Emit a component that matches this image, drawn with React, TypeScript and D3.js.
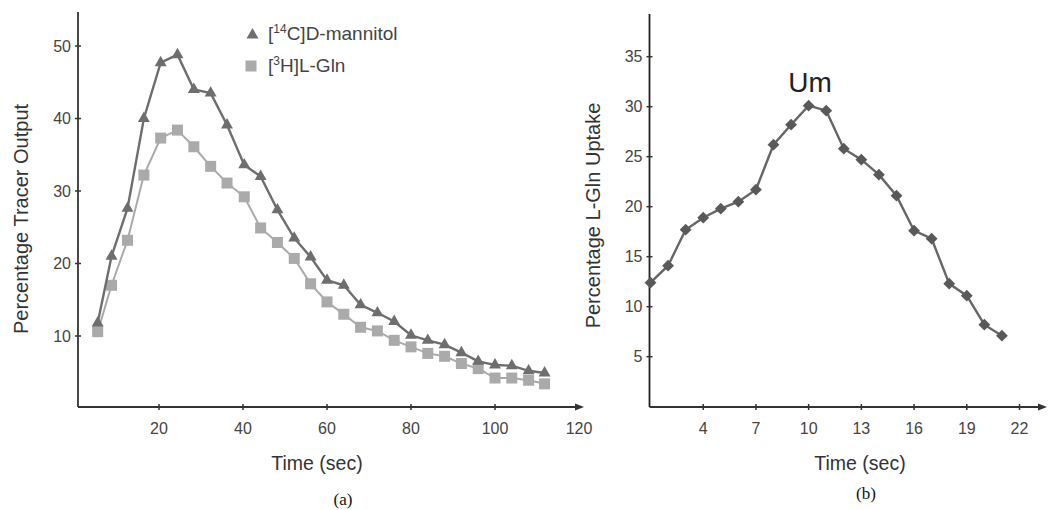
import * as d3 from "d3";

// panel (a): tracer output over time
const timesA = [5.4, 8.7, 12.5, 16.4, 20.4, 24.4, 28.3, 32.3, 36.2, 40.3, 44.2, 48.2, 52.2, 56.1, 60, 64, 68, 72, 76, 80, 84, 88, 92, 96, 100, 104, 108, 111.8];
const mannitol = [11.8, 21.0, 27.6, 40.0, 47.7, 48.8, 44.0, 43.5, 39.1, 33.6, 32.0, 27.4, 23.5, 20.9, 17.7, 17.0, 14.3, 13.2, 12.0, 10.1, 9.4, 8.8, 7.7, 6.5, 6.0, 5.9, 5.2, 4.9];
const gln = [10.6, 17.0, 23.2, 32.2, 37.3, 38.4, 36.1, 33.4, 31.1, 29.2, 24.9, 22.9, 20.7, 17.2, 14.7, 13.0, 11.2, 10.7, 9.4, 8.5, 7.6, 7.2, 6.2, 5.5, 4.2, 4.2, 3.9, 3.4];
const xTicksA = [20, 40, 60, 80, 100, 120];
const yTicksA = [10, 20, 30, 40, 50];

// panel (b): L-Gln uptake
const timesB = [1, 2, 3, 4, 5, 6, 7, 8, 9, 10, 11, 12, 13, 14, 15, 16, 17, 18, 19, 20, 21];
const uptake = [12.4, 14.1, 17.7, 18.9, 19.8, 20.5, 21.7, 26.2, 28.2, 30.1, 29.6, 25.8, 24.7, 23.2, 21.1, 17.6, 16.8, 12.3, 11.1, 8.2, 7.1];
const xTicksB = [4, 7, 10, 13, 16, 19, 22];
const yTicksB = [5, 10, 15, 20, 25, 30, 35];

const W = 1048;
const H = 510;
const sans = "'Liberation Sans', Arial, sans-serif";
const serif = "'Liberation Serif', 'Times New Roman', serif";

const triColor = "#6e6e6e";
const sqColor = "#aaaaaa";
const diaColor = "#595959";

export default function App() {
  const xA = d3.scaleLinear().domain([0, 120]).range([75, 579]);
  const yA = d3.scaleLinear().domain([0, 50]).range([408.5, 46]);
  const xB = d3.scaleLinear().domain([1, 22]).range([650.5, 1019.5]);
  const yB = d3.scaleLinear().domain([0, 35]).range([406.7, 56.7]);

  const axisA = { x: 78, y: 407, top: 12, right: 584 };
  const axisB = { x: 649.5, y: 407, top: 14, right: 1047 };

  const lineA = d3.line<number>().x((_, i) => xA(timesA[i]));
  const triPath = d3.line<number>().x((_, i) => xA(timesA[i])).y((d) => yA(d))(mannitol) || "";
  const sqPath = lineA.y((d) => yA(d))(gln) || "";
  const upPath = d3.line<number>().x((_, i) => xB(timesB[i])).y((d) => yB(d))(uptake) || "";

  const tri = d3.symbol(d3.symbolTriangle, 62)() || "";
  const sq = d3.symbol(d3.symbolSquare, 121)() || "";
  const dia = d3.symbol(d3.symbolSquare, 70)() || "";

  const tickText = { fontFamily: sans, fontSize: 16, fill: "#444" };

  return (
    <svg width={W} height={H} style={{ position: "absolute", left: 0, top: 0, background: "#fff" }}>
      {/* ---------- panel (a) ---------- */}
      <g>
        <line x1={axisA.x} x2={axisA.x} y1={axisA.top} y2={axisA.y} stroke="#333" strokeWidth={1.8} />
        <line x1={axisA.x} x2={axisA.right - 6} y1={axisA.y} y2={axisA.y} stroke="#333" strokeWidth={1.8} />
        <path d={`M${axisA.right},${axisA.y} L${axisA.right - 9},${axisA.y - 3.5} L${axisA.right - 9},${axisA.y + 3.5} Z`} fill="#333" />
        {yTicksA.map((t) => (
          <g key={t}>
            <line x1={axisA.x - 3} x2={axisA.x + 3} y1={yA(t)} y2={yA(t)} stroke="#333" strokeWidth={1.5} />
            <text x={axisA.x - 7} y={yA(t)} dy="0.35em" textAnchor="end" {...tickText}>{t}</text>
          </g>
        ))}
        {xTicksA.map((t) => (
          <g key={t}>
            {t < 120 && <line x1={xA(t)} x2={xA(t)} y1={axisA.y - 3} y2={axisA.y + 3} stroke="#333" strokeWidth={1.5} />}
            <text x={xA(t)} y={434} textAnchor="middle" {...tickText}>{t}</text>
          </g>
        ))}
        <text transform="translate(28,219) rotate(-90)" textAnchor="middle" fontFamily={sans} fontSize={20} fill="#333">
          Percentage Tracer Output
        </text>
        <text x={317} y={470} textAnchor="middle" fontFamily={sans} fontSize={19.5} fill="#333">Time (sec)</text>

        <path d={sqPath} fill="none" stroke={sqColor} strokeWidth={2} />
        {gln.map((v, i) => (
          <path key={i} d={sq} transform={`translate(${xA(timesA[i])},${yA(v)})`} fill={sqColor} />
        ))}
        <path d={triPath} fill="none" stroke={triColor} strokeWidth={2.4} />
        {mannitol.map((v, i) => (
          <path key={i} d={tri} transform={`translate(${xA(timesA[i])},${yA(v)})`} fill={triColor} />
        ))}

        {/* legend */}
        <path d={tri} transform="translate(252.5,35)" fill={triColor} />
        <text x={268} y={40} fontFamily={sans} fontSize={19} fill="#444">
          [<tspan fontSize={12} dy={-7}>14</tspan><tspan dy={7}>C]D-mannitol</tspan>
        </text>
        <path d={sq} transform="translate(251,66)" fill={sqColor} />
        <text x={268} y={72} fontFamily={sans} fontSize={19} fill="#444">
          [<tspan fontSize={12} dy={-7}>3</tspan><tspan dy={7}>H]L-Gln</tspan>
        </text>
        <text x={343} y={505} textAnchor="middle" fontFamily={serif} fontSize={17} fill="#111">(a)</text>
      </g>

      {/* ---------- panel (b) ---------- */}
      <g>
        <line x1={axisB.x} x2={axisB.x} y1={axisB.top} y2={axisB.y} stroke="#222" strokeWidth={1.8} />
        <line x1={axisB.x} x2={axisB.right - 6} y1={axisB.y} y2={axisB.y} stroke="#333" strokeWidth={1.8} />
        <path d={`M${axisB.right},${axisB.y} L${axisB.right - 9},${axisB.y - 3.5} L${axisB.right - 9},${axisB.y + 3.5} Z`} fill="#333" />
        {yTicksB.map((t) => (
          <g key={t}>
            <line x1={axisB.x - 3} x2={axisB.x + 3} y1={yB(t)} y2={yB(t)} stroke="#333" strokeWidth={1.5} />
            <text x={axisB.x - 7} y={yB(t)} dy="0.35em" textAnchor="end" {...tickText}>{t}</text>
          </g>
        ))}
        {xTicksB.map((t) => (
          <g key={t}>
            <line x1={xB(t)} x2={xB(t)} y1={axisB.y - 3} y2={axisB.y + 3} stroke="#333" strokeWidth={1.5} />
            <text x={xB(t)} y={434} textAnchor="middle" {...tickText}>{t}</text>
          </g>
        ))}
        <text transform="translate(600,215.5) rotate(-90)" textAnchor="middle" fontFamily={sans} fontSize={20} fill="#333">
          Percentage L-Gln Uptake
        </text>
        <text x={860} y={470} textAnchor="middle" fontFamily={sans} fontSize={19.5} fill="#333">Time (sec)</text>

        <path d={upPath} fill="none" stroke="#666" strokeWidth={2.4} />
        {uptake.map((v, i) => (
          <path key={i} d={dia} transform={`translate(${xB(timesB[i])},${yB(v)}) rotate(45)`} fill={diaColor} />
        ))}
        <text x={810} y={92} textAnchor="middle" fontFamily={sans} fontSize={28} fill="#222">Um</text>
        <text x={866} y={499} textAnchor="middle" fontFamily={serif} fontSize={17} fill="#111">(b)</text>
      </g>
    </svg>
  );
}
